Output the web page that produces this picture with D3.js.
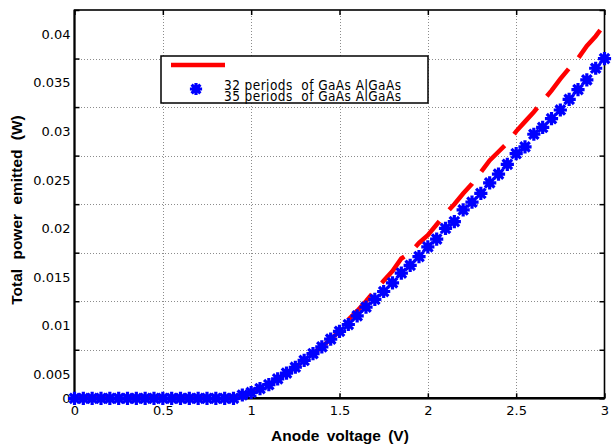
<!DOCTYPE html>
<html>
<head>
<meta charset="utf-8">
<script src="https://cdn.jsdelivr.net/npm/d3@7"></script>
<style>
  html, body { margin: 0; padding: 0; background: #fff; }
  svg { display: block; }
</style>
</head>
<body>
<svg id="chart" width="614" height="446"></svg>
<script>
// Anode voltage samples (V)
const voltage = d3.range(0, 61).map(i => +(i * 0.05).toFixed(2));

// Total emitted power (W), 32 periods of GaAs/AlGaAs
const power32 = [
  0, 0, 0, 0, 0, 0, 0, 0, 0, 0,
  0, 0, 0, 0, 0, 0, 0, 0, 0, 0.0003,
  0.0006, 0.0009, 0.0014, 0.0020, 0.0026, 0.0032, 0.0039, 0.0046, 0.0053, 0.0061,
  0.0069, 0.0081, 0.0090, 0.0100, 0.0111, 0.0121, 0.0131, 0.0144, 0.0150, 0.0160,
  0.0168, 0.0179, 0.0190, 0.0200, 0.0211, 0.0221, 0.0233, 0.0245, 0.0254, 0.0263,
  0.0275, 0.0285, 0.0295, 0.0306, 0.0317, 0.0329, 0.0340, 0.0350, 0.0363, 0.0373,
  0.0385
];

// Total emitted power (W), 35 periods of GaAs/AlGaAs
const power35 = [
  0, 0, 0, 0, 0, 0, 0, 0, 0, 0,
  0, 0, 0, 0, 0, 0, 0, 0, 0, 0.00034,
  0.0006, 0.0010, 0.0014, 0.0020, 0.0026, 0.0032, 0.0039, 0.0046, 0.0053, 0.0061,
  0.0069, 0.0076, 0.0085, 0.0094, 0.0102, 0.0110, 0.0119, 0.0129, 0.0137, 0.0146,
  0.0156, 0.0164, 0.0175, 0.0182, 0.0194, 0.0202, 0.0211, 0.0222, 0.0231, 0.0241,
  0.0252, 0.0259, 0.0272, 0.0279, 0.0288, 0.0297, 0.0308, 0.0318, 0.0328, 0.0340,
  0.0350
];

const xTicks = [0, 0.5, 1, 1.5, 2, 2.5, 3];
const xTickLabels = ["0", "0.5", "1", "1.5", "2", "2.5", "3"];
const yTicks = [0, 0.005, 0.01, 0.015, 0.02, 0.025, 0.03, 0.035, 0.04];
const yTickLabels = ["0", "0.005", "0.01", "0.015", "0.02", "0.025", "0.03", "0.035", "0.04"];
const legendLabels = ["32 periods  of GaAs AlGaAs", "35 periods  of GaAs AlGaAs"];

const svg = d3.select("#chart");
const W = 614, H = 446;
const m = { left: 74.5, right: 9.5, top: 10, bottom: 47.7 };
const iw = W - m.left - m.right, ih = H - m.top - m.bottom;

const x = d3.scaleLinear().domain([0, 3]).range([m.left, m.left + iw]);
const y = d3.scaleLinear().domain([0, 0.04]).range([m.top + ih, m.top]);

const tickFont = "'DejaVu Sans', Verdana, sans-serif";

// dotted grid
const grid = svg.append("g").attr("stroke", "#8c8c8c").attr("stroke-width", 1)
  .attr("stroke-dasharray", "1,2").attr("shape-rendering", "crispEdges");
grid.selectAll("line.vx").data(xTicks.slice(1, -1)).join("line")
  .attr("x1", d => Math.round(x(d)) + 0.5).attr("x2", d => Math.round(x(d)) + 0.5)
  .attr("y1", m.top).attr("y2", m.top + ih);
grid.selectAll("line.hy").data(yTicks.slice(1, -1)).join("line")
  .attr("y1", d => Math.round(y(d)) + 0.5).attr("y2", d => Math.round(y(d)) + 0.5)
  .attr("x1", m.left).attr("x2", m.left + iw);

// inward ticks on all four sides
const tickLen = 5;
const axisBottom = d3.axisBottom(x).tickValues(xTicks).tickSizeInner(-tickLen).tickSizeOuter(0).tickFormat((d, i) => xTickLabels[i]);
const axisTop = d3.axisTop(x).tickValues(xTicks).tickSizeInner(-tickLen).tickSizeOuter(0).tickFormat("");
const axisLeft = d3.axisLeft(y).tickValues(yTicks).tickSizeInner(-tickLen).tickSizeOuter(0).tickFormat((d, i) => yTickLabels[i]);
const axisRight = d3.axisRight(y).tickValues(yTicks).tickSizeInner(-tickLen).tickSizeOuter(0).tickFormat("");

const gB = svg.append("g").attr("transform", `translate(0,${m.top + ih})`).call(axisBottom);
const gT = svg.append("g").attr("transform", `translate(0,${m.top})`).call(axisTop);
const gL = svg.append("g").attr("transform", `translate(${m.left},0)`).call(axisLeft);
const gR = svg.append("g").attr("transform", `translate(${m.left + iw},0)`).call(axisRight);

[gB, gT, gL, gR].forEach(g => {
  g.select(".domain").remove();
  g.selectAll(".tick line").attr("stroke", "#000").attr("stroke-width", 1.5);
});
gB.selectAll(".tick text").attr("font-family", tickFont).attr("font-size", 13)
  .attr("fill", "#000").attr("dy", "1.05em");
// y labels sit half a step below their tick
const half = (y(0) - y(0.005)) / 2;
gL.selectAll(".tick text").attr("font-family", tickFont).attr("font-size", 13)
  .attr("fill", "#000").attr("x", -4)
  .attr("y", d => d === 0 ? 0 : half);

// frame
svg.append("rect").attr("x", m.left).attr("y", m.top).attr("width", iw).attr("height", ih)
  .attr("fill", "none").attr("stroke", "#000").attr("stroke-width", 1.6);
svg.append("line").attr("x1", m.left).attr("x2", m.left + iw).attr("y1", m.top + ih).attr("y2", m.top + ih)
  .attr("stroke", "#000").attr("stroke-width", 2.6);
svg.append("line").attr("x1", m.left).attr("x2", m.left).attr("y1", m.top).attr("y2", m.top + ih)
  .attr("stroke", "#000").attr("stroke-width", 2);

// red dashed curve (32 periods)
const line = d3.line().x((d, i) => x(voltage[i])).y(d => y(d));
svg.append("path").datum(power32).attr("d", line)
  .attr("fill", "none").attr("stroke", "#ff0000").attr("stroke-width", 4.5)
  .attr("stroke-dasharray", "35,15");

// blue asterisk markers (35 periods)
function star(s) {
  const a = s * 0.72;
  return `M${-s},0L${s},0M0,${-s}L0,${s}M${-a},${-a}L${a},${a}M${-a},${a}L${a},${-a}`;
}
svg.append("g").selectAll("path").data(power35).join("path")
  .attr("transform", (d, i) => `translate(${x(voltage[i])},${y(d)})`)
  .attr("d", star(5))
  .attr("fill", "none").attr("stroke", "#0000ff").attr("stroke-width", 3.2)
  .attr("stroke-linecap", "square");

// legend
const lg = svg.append("g");
lg.append("rect").attr("x", 161).attr("y", 56).attr("width", 267).attr("height", 47)
  .attr("fill", "#fff").attr("stroke", "#000").attr("stroke-width", 1.5);
lg.append("line").attr("x1", 171).attr("x2", 225).attr("y1", 65).attr("y2", 65)
  .attr("stroke", "#ff0000").attr("stroke-width", 4.5);
lg.append("path").attr("transform", "translate(196,89)").attr("d", star(4.5))
  .attr("fill", "none").attr("stroke", "#0000ff").attr("stroke-width", 3.2).attr("stroke-linecap", "square");
lg.selectAll("text").data(legendLabels).join("text")
  .attr("x", 224).attr("y", (d, i) => 89.5 + i * 11)
  .attr("font-family", "'Liberation Sans Narrow', 'DejaVu Sans Condensed', sans-serif")
  .attr("font-size", 13.5).attr("fill", "#000")
  .attr("textLength", 177).attr("lengthAdjust", "spacing")
  .style("white-space", "pre")
  .text(d => d);

// axis titles
svg.append("text").attr("x", 340).attr("y", 441).attr("text-anchor", "middle")
  .attr("font-family", "'Liberation Sans', Arial, sans-serif").attr("font-weight", "bold")
  .attr("font-size", 15.5).style("word-spacing", "3px").text("Anode voltage (V)");
svg.append("text").attr("transform", "translate(22,210) rotate(-90)").attr("text-anchor", "middle")
  .attr("font-family", "'Liberation Sans', Arial, sans-serif").attr("font-weight", "bold")
  .attr("font-size", 15.5).style("word-spacing", "5px").text("Total power emitted (W)");
</script>
</body>
</html>
